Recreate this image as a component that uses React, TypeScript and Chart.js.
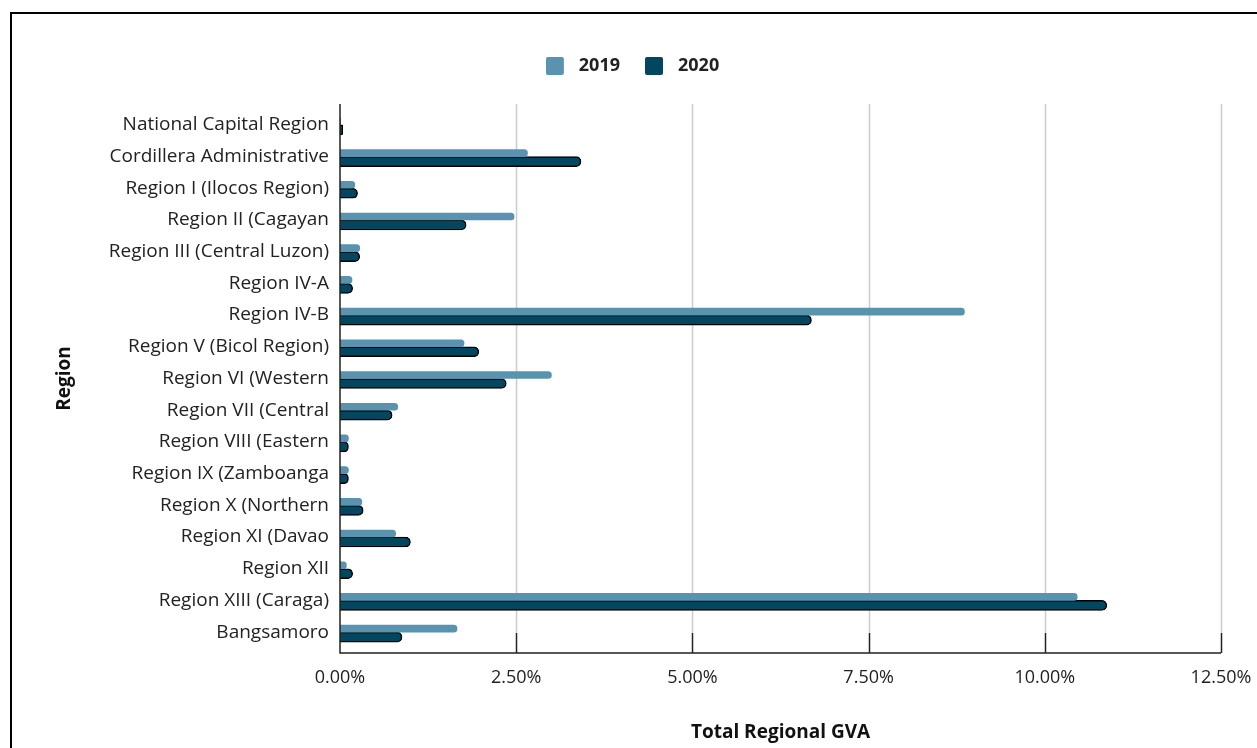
import React, { useEffect, useRef } from "react";
import { Chart, registerables } from "chart.js";

Chart.register(...registerables);

const categories = [
  "National Capital Region",
  "Cordillera Administrative",
  "Region I (Ilocos Region)",
  "Region II (Cagayan",
  "Region III (Central Luzon)",
  "Region IV-A",
  "Region IV-B",
  "Region V (Bicol Region)",
  "Region VI (Western",
  "Region VII (Central",
  "Region VIII (Eastern",
  "Region IX (Zamboanga",
  "Region X (Northern",
  "Region XI (Davao",
  "Region XII",
  "Region XIII (Caraga)",
  "Bangsamoro",
];

const values2019 = [0.01, 2.66, 0.21, 2.47, 0.28, 0.17, 8.86, 1.76, 3.0, 0.82, 0.12, 0.12, 0.31, 0.79, 0.09, 10.46, 1.66];
const values2020 = [0.04, 3.42, 0.25, 1.79, 0.28, 0.18, 6.69, 1.97, 2.36, 0.74, 0.12, 0.12, 0.33, 1.0, 0.18, 10.88, 0.88];

const seriesLabels = ["2019", "2020"];
const xTickValues = [0, 2.5, 5, 7.5, 10, 12.5];

const FONT = "'Open Sans'";
const COLOR_2019 = "#5a93b0";
const COLOR_2020 = "#02465f";

function makeLegendSwatch(color: string) {
  const c = document.createElement("canvas");
  c.width = 24;
  c.height = 18;
  const g = c.getContext("2d")!;
  g.fillStyle = color;
  g.beginPath();
  (g as any).roundRect ? (g as any).roundRect(0, 0, 18, 18, 2) : g.rect(0, 0, 18, 18);
  g.fill();
  return c;
}

const axesPlugin = {
  id: "customAxes",
  beforeDatasetsDraw(chart: any) {
    const { ctx, chartArea } = chart;
    const xs = chart.scales.x;
    const bottom = chartArea.bottom + 5;
    ctx.save();
    ctx.strokeStyle = "#cccccc";
    ctx.lineWidth = 1.5;
    xTickValues.forEach((v) => {
      if (v === 0) return;
      const px = Math.round(xs.getPixelForValue(v)) + 0.5;
      ctx.beginPath();
      ctx.moveTo(px, chartArea.top - 5);
      ctx.lineTo(px, bottom - 20);
      ctx.stroke();
    });
    ctx.restore();
  },
  afterDatasetsDraw(chart: any) {
    const { ctx, chartArea } = chart;
    const xs = chart.scales.x;
    const bottom = chartArea.bottom + 5;
    ctx.save();
    ctx.strokeStyle = "#222222";
    ctx.lineWidth = 1.5;
    ctx.beginPath();
    ctx.moveTo(chartArea.left, chartArea.top - 5);
    ctx.lineTo(chartArea.left, bottom);
    ctx.lineTo(chartArea.right, bottom);
    ctx.stroke();
    xTickValues.forEach((v) => {
      if (v === 0) return;
      const px = Math.round(xs.getPixelForValue(v)) + 0.5;
      ctx.beginPath();
      ctx.moveTo(px, bottom - 20);
      ctx.lineTo(px, bottom);
      ctx.stroke();
    });
    ctx.restore();
  },
};

const legendSpacing = {
  id: "legendSpacing",
  beforeInit(chart: any) {
    if (!chart.legend) return;
    const orig = chart.legend.fit;
    chart.legend.fit = function fit() {
      orig.bind(chart.legend)();
      this.height += 24;
    };
  },
  afterLayout(chart: any) {
    if (!chart.legend) return;
    chart.legend.left += 22;
    chart.legend.right += 22;
  },
};

export default function App() {
  const ref = useRef<HTMLCanvasElement>(null);

  useEffect(() => {
    if (!ref.current) return;
    const swatches = [makeLegendSwatch(COLOR_2019), makeLegendSwatch(COLOR_2020)];
    const chart = new Chart(ref.current, {
      type: "bar",
      data: {
        labels: categories,
        datasets: [
          {
            label: seriesLabels[0],
            data: values2019,
            backgroundColor: COLOR_2019,
            borderWidth: 0,
            barThickness: 7,
            borderRadius: 3.5,
            borderSkipped: "start",
          },
          {
            label: seriesLabels[1],
            data: values2020,
            backgroundColor: COLOR_2020,
            borderColor: "#000000",
            borderWidth: 1.5,
            barThickness: 10,
            borderRadius: 5,
            borderSkipped: "start",
          },
        ],
      },
      options: {
        indexAxis: "y",
        animation: false,
        responsive: false,
        maintainAspectRatio: false,
        layout: { padding: { top: 32, right: 36, left: 0, bottom: 0 } },
        datasets: { bar: { categoryPercentage: 0.6, barPercentage: 1 } },
        scales: {
          x: {
            min: 0,
            max: 12.5,
            afterFit(scale: any) {
              scale.height = 100;
              scale.paddingLeft = 0;
              scale.paddingRight = 0;
            },
            afterBuildTicks(scale: any) {
              scale.ticks = xTickValues.map((v) => ({ value: v }));
            },
            grid: { display: false, drawTicks: false },
            border: { display: false },
            ticks: {
              padding: 19,
              color: "#222222",
              font: { family: FONT, size: 18 },
              callback: (v: any) => Number(v).toFixed(2) + "%",
            },
            title: {
              display: true,
              text: "Total Regional GVA",
              color: "#111111",
              font: { family: FONT, size: 19, weight: "bold" },
              padding: { top: 0, bottom: 4 },
            },
          },
          y: {
            offset: true,
            afterFit(scale: any) {
              scale.width = 340;
            },
            grid: { display: false, drawTicks: false },
            border: { display: false },
            ticks: {
              padding: 11,
              color: "#222222",
              font: { family: FONT, size: 19 },
              autoSkip: false,
            },
            title: {
              display: true,
              text: "Region",
              color: "#111111",
              font: { family: FONT, size: 19, weight: "bold" },
              padding: { top: 53, bottom: 0 },
            },
          },
        },
        plugins: {
          legend: {
            position: "top",
            align: "center",
            labels: {
              usePointStyle: true,
              pointStyleWidth: 24,
              boxHeight: 18,
              padding: 25,
              color: "#222222",
              font: { family: FONT, size: 18, weight: "bold" },
              generateLabels: (c: any) =>
                c.data.datasets.map((ds: any, i: number) => ({
                  text: ds.label,
                  fillStyle: ds.backgroundColor,
                  strokeStyle: ds.backgroundColor,
                  lineWidth: 0,
                  hidden: false,
                  datasetIndex: i,
                  fontColor: "#222222",
                  pointStyle: swatches[i],
                })),
            },
          },
          tooltip: { enabled: false },
        },
      },
      plugins: [axesPlugin, legendSpacing],
    } as any);
    return () => chart.destroy();
  }, []);

  return (
    <div style={{ position: "fixed", left: 0, top: 0, width: 1257, height: 748, overflow: "hidden", background: "#fff" }}>
      <div
        style={{
          position: "absolute",
          left: 10,
          top: 12,
          width: 1400,
          height: 900,
          border: "2px solid #000",
          boxSizing: "border-box",
        }}
      />
      <canvas ref={ref} width={1257} height={748} style={{ position: "absolute", left: 0, top: 0 }} />
    </div>
  );
}
